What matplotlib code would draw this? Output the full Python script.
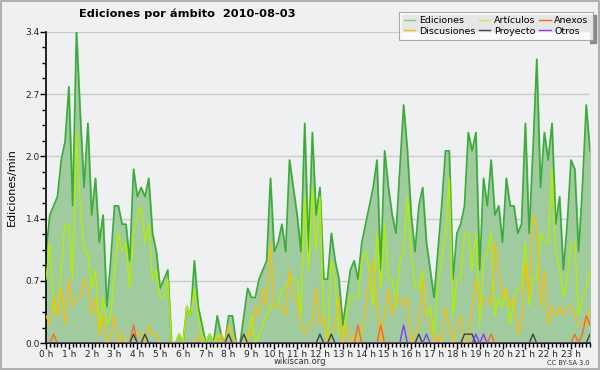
import numpy as np
import matplotlib
matplotlib.use('Agg')
import matplotlib.pyplot as plt
from matplotlib.patches import Rectangle

# 10-minute buckets, edits per minute (144 points for 2010-08-03)
ediciones = [1.0, 1.4, 1.5, 1.6, 2.0, 2.2, 2.8, 1.5, 3.4, 2.5, 1.7, 2.4,
             1.4, 1.8, 1.1, 1.4, 0.4, 0.9, 1.5, 1.5, 1.3, 1.3, 0.9, 1.9,
             1.6, 1.7, 1.6, 1.8, 1.2, 1.0, 0.6, 0.7, 0.8, 0.0, 0.0, 0.1,
             0.0, 0.4, 0.3, 0.9, 0.4, 0.2, 0.0, 0.1, 0.0, 0.3, 0.1, 0.0,
             0.3, 0.3, 0.0, 0.0, 0.3, 0.6, 0.5, 0.5, 0.7, 0.8, 0.9, 1.8,
             1.0, 1.1, 1.3, 1.0, 2.0, 1.7, 1.4, 1.0, 2.4, 1.0, 2.3, 1.4,
             1.7, 0.7, 0.7, 1.2, 0.9, 0.7, 0.2, 0.5, 0.8, 0.9, 0.7, 1.1,
             1.3, 1.5, 1.7, 2.0, 0.8, 2.1, 1.7, 1.4, 1.2, 1.9, 2.6, 2.1,
             1.4, 1.0, 1.5, 1.7, 1.1, 0.8, 0.5, 1.0, 1.5, 2.1, 2.1, 0.7,
             1.2, 1.3, 1.5, 2.3, 2.1, 2.3, 0.8, 1.8, 1.5, 2.0, 1.4, 1.5,
             1.1, 1.8, 1.5, 1.5, 1.2, 1.3, 2.4, 1.2, 2.1, 3.1, 1.7, 2.3,
             2.0, 2.4, 1.3, 1.6, 0.8, 1.3, 2.0, 1.9, 1.0, 1.7, 2.6, 2.1]

articulos = [0.7, 1.1, 0.4, 0.3, 0.8, 1.3, 1.3, 0.7, 2.3, 1.5, 1.0, 1.0,
             0.6, 0.8, 0.1, 0.5, 0.2, 0.3, 0.8, 1.2, 1.0, 1.1, 0.6, 1.2,
             1.4, 1.5, 1.1, 1.3, 0.7, 0.8, 0.5, 0.5, 0.7, 0.0, 0.0, 0.1,
             0.0, 0.4, 0.3, 0.6, 0.3, 0.1, 0.0, 0.1, 0.0, 0.1, 0.0, 0.0,
             0.1, 0.0, 0.0, 0.0, 0.0, 0.0, 0.3, 0.0, 0.1, 0.2, 0.3, 0.4,
             0.4, 0.4, 0.6, 0.6, 0.7, 0.7, 0.7, 0.3, 1.6, 0.8, 1.7, 1.0,
             1.6, 0.3, 0.0, 0.9, 0.7, 0.1, 0.1, 0.3, 0.5, 0.5, 0.5, 0.9,
             1.0, 0.8, 0.4, 1.2, 0.6, 1.3, 0.7, 0.7, 0.4, 0.9, 1.0, 1.6,
             1.0, 0.6, 0.6, 0.8, 0.3, 0.4, 0.1, 0.6, 0.9, 1.2, 1.8, 0.3,
             0.7, 0.7, 1.2, 1.2, 0.8, 1.2, 0.2, 0.9, 1.0, 1.2, 0.3, 0.5,
             0.4, 0.6, 0.2, 0.5, 0.6, 0.6, 1.1, 0.4, 0.7, 0.7, 1.2, 1.1,
             1.1, 1.9, 1.0, 0.8, 0.5, 0.7, 1.1, 1.1, 0.3, 0.5, 0.6, 0.8]

discusiones = [0.3, 0.2, 0.5, 0.3, 0.6, 0.2, 0.7, 0.4, 0.5, 0.5, 0.7, 0.6,
               0.3, 0.5, 0.1, 0.3, 0.0, 0.1, 0.3, 0.0, 0.1, 0.0, 0.0, 0.1,
               0.1, 0.1, 0.0, 0.2, 0.1, 0.1, 0.0, 0.0, 0.0, 0.0, 0.0, 0.0,
               0.0, 0.0, 0.0, 0.0, 0.1, 0.0, 0.0, 0.0, 0.0, 0.0, 0.1, 0.0,
               0.2, 0.1, 0.0, 0.0, 0.0, 0.1, 0.1, 0.4, 0.3, 0.6, 0.4, 1.1,
               0.4, 0.4, 0.4, 0.3, 0.8, 0.5, 0.5, 0.2, 0.1, 0.2, 0.2, 0.6,
               0.2, 0.3, 0.0, 0.1, 0.2, 0.5, 0.0, 0.2, 0.0, 0.1, 0.0, 0.1,
               0.4, 0.7, 0.9, 0.4, 0.0, 0.3, 0.6, 0.3, 0.5, 0.5, 0.4, 0.5,
               0.0, 0.1, 0.2, 0.7, 0.3, 0.2, 0.0, 0.1, 0.0, 0.4, 0.2, 0.0,
               0.2, 0.3, 0.0, 0.0, 0.4, 0.7, 0.4, 0.5, 0.5, 0.4, 1.1, 0.8,
               0.5, 0.6, 0.4, 0.5, 0.1, 0.2, 0.9, 0.5, 1.4, 1.3, 0.4, 0.8,
               0.2, 0.4, 0.3, 0.4, 0.3, 0.4, 0.4, 0.3, 0.2, 0.2, 0.2, 0.4]

# sparse series: bucket index -> value
anexos_idx = [2, 23, 82, 88, 117, 139, 141, 142, 143]
anexos_val = [0.1, 0.2, 0.2, 0.2, 0.1, 0.1, 0.1, 0.3, 0.2]
proyecto_idx = [23, 26, 48, 52, 72, 75, 98, 110, 111, 112, 128, 143]
proyecto_val = [0.1, 0.1, 0.1, 0.1, 0.1, 0.1, 0.1, 0.1, 0.1, 0.1, 0.1, 0.1]
otros_idx = [94, 100, 113, 115]
otros_val = [0.2, 0.1, 0.1, 0.1]

hour_labels = ['%d h' % h for h in range(24)]

n = len(ediciones)
x = np.arange(n)

anexos = np.zeros(n)
anexos[anexos_idx] = anexos_val
proyecto = np.zeros(n)
proyecto[proyecto_idx] = proyecto_val
otros = np.zeros(n)
otros[otros_idx] = otros_val

fig = plt.figure(figsize=(6, 3.7), dpi=100, facecolor='#f0f0f0')
ax = fig.add_axes([46/600, 1 - 343.3/370, 544/600, 311.6/370])
ax.set_facecolor('#eef0f2')

ymax = 3.4
for k in range(1, 6):
    ax.axhline(ymax * k / 5, color='#cccccc', lw=1, zorder=0)

ax.fill_between(x, ediciones, color='#9fcb9f', zorder=1)
ax.plot(x, ediciones, color='#3bab3b', lw=1.2, zorder=2)
ax.plot(x, articulos, color='#b2ee00', lw=1.0, zorder=3)
ax.plot(x, discusiones, color='#f2c010', lw=1.0, zorder=4)
ax.plot(x, anexos, color='#f86a20', lw=1.0, zorder=5)
ax.plot(x, proyecto, color='#404040', lw=1.0, zorder=5)
ax.plot(x, otros, color='#8a3cf0', lw=1.0, zorder=6)

ax.set_xlim(0, n - 1)
ax.set_ylim(0, ymax)
ax.set_yticks([ymax * k / 5 for k in range(6)])
ax.set_yticklabels(['%.1f' % (ymax * k / 5) for k in range(6)])
ax.set_yticks([ymax * k / 20 for k in range(21)], minor=True)
ax.set_xticks(np.arange(0, 144, 6))
ax.set_xticklabels(hour_labels)
ax.set_xticks(x, minor=True)
ax.tick_params(axis='both', which='major', labelsize=6.5, length=4, width=1,
               colors='black', labelcolor='#222222', pad=0.5)
ax.tick_params(axis='both', which='minor', length=3, width=1)

for s in ['top', 'right']:
    ax.spines[s].set_visible(False)
ax.spines['left'].set_linewidth(1.2)
ax.spines['bottom'].set_linewidth(1.2)

ax.set_ylabel('Ediciones/min', fontsize=8, labelpad=6)

fig.text(0.313, 0.962, 'Ediciones por ámbito  2010-08-03', ha='center',
         va='center', fontsize=8.2, fontweight='bold')
fig.text(0.5, 0.022, 'wikiscan.org', ha='center', va='center', fontsize=6,
         color='#333333')
fig.text(0.983, 0.018, 'CC BY-SA 3.0', ha='right', va='center', fontsize=4.8,
         color='#333333')

# legend with drop shadow
handles = [plt.Line2D([], [], color=c, lw=1) for c in
           ['#88cc88', '#f2c010', '#c8ee40', '#404040', '#f86a20', '#8a3cf0']]
labels = ['Ediciones', 'Discusiones', 'Artículos', 'Proyecto', 'Anexos', 'Otros']
leg = fig.legend(handles, labels, ncol=3, loc='upper right',
                 bbox_to_anchor=(593/600, 1 - 12/370), fontsize=6.8,
                 frameon=True, fancybox=False, shadow=False,
                 handlelength=1.2, handletextpad=0.4, columnspacing=0.4,
                 labelspacing=0.15, borderpad=0.45, borderaxespad=0)
leg.get_frame().set_edgecolor('#999999')
leg.get_frame().set_linewidth(0.8)

fig.canvas.draw()
bb = leg.get_window_extent().transformed(fig.transFigure.inverted())
fig.patches.append(Rectangle((bb.x0 + 3/600, bb.y0 - 3/370), bb.width, bb.height,
                             transform=fig.transFigure, color='#888888',
                             zorder=-1))

fig.patches.append(Rectangle((0.001, 0.002), 0.997, 0.996, transform=fig.transFigure,
                             fill=False, edgecolor='#b0b0b0', lw=1.5))

fig.savefig('out.png', dpi=100, facecolor=fig.get_facecolor())
